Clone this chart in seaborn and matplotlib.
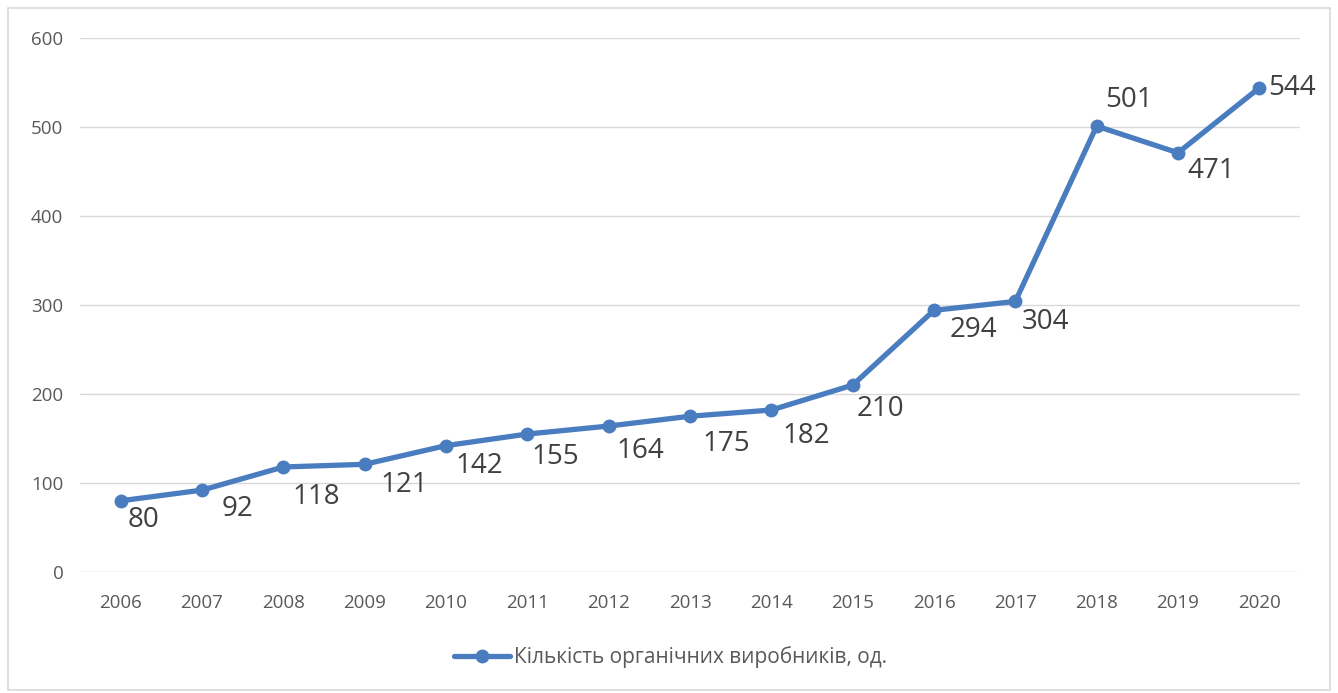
import matplotlib
matplotlib.use("Agg")
import matplotlib.pyplot as plt
import seaborn as sns
import pandas as pd
from matplotlib.patches import Rectangle

years = [2006, 2007, 2008, 2009, 2010, 2011, 2012, 2013, 2014, 2015, 2016, 2017, 2018, 2019, 2020]
producers = [80, 92, 118, 121, 142, 155, 164, 175, 182, 210, 294, 304, 501, 471, 544]
series_name = "Кількість органічних виробників, од."

# label offsets from each point, in pixels (dx right, dy down)
label_offsets = [(23, 19), (35, 19), (33, 30), (40, 21), (33, 20), (28, 23), (32, 25),
                 (36, 28), (35, 26), (28, 24), (39, 20), (30, 21), (32, -26), (33, 18), (33, 0)]

sns.set_theme(style="white")
plt.rcParams["font.family"] = ["Open Sans", "DejaVu Sans"]

df = pd.DataFrame({"year": years, "value": producers})

fig = plt.figure(figsize=(13.38, 6.93), dpi=100)
ax = fig.add_axes([0.0598, 0.1746, 0.9118, 0.7706])

blue = "#4a7dc0"
sns.lineplot(data=df, x="year", y="value", ax=ax, color=blue, linewidth=3.8,
             marker="o", markersize=10, markeredgewidth=0, label=series_name)

for x, y, (dx, dy) in zip(years, producers, label_offsets):
    ax.annotate(str(y), (x, y), xytext=(dx, -dy), textcoords="offset pixels",
                ha="center", va="center", fontsize=20, color="#404040")

ax.set_xlim(2005.5, 2020.5)
ax.set_ylim(0, 600)
ax.set_xticks(years)
ax.set_xticklabels([str(y) for y in years])
ax.set_yticks(range(0, 601, 100))
ax.grid(axis="y", color="#d9d9d9", linewidth=1)
ax.set_axisbelow(True)
for s in ax.spines.values():
    s.set_visible(False)
ax.tick_params(axis="both", length=0, labelsize=13.5, labelcolor="#595959")
ax.tick_params(axis="x", pad=16)
ax.tick_params(axis="y", pad=12)
ax.set_xlabel("")
ax.set_ylabel("")

leg = ax.legend(loc="center", bbox_to_anchor=(0.484, -0.159), frameon=False,
                fontsize=15, handlelength=2.7, handletextpad=0.2)
for t in leg.get_texts():
    t.set_color("#595959")

fig.patches.append(Rectangle((8 / 1338, 3 / 693), 1322 / 1338, 682 / 693,
                             transform=fig.transFigure, fill=False,
                             edgecolor="#d9d9d9", linewidth=1.2))

fig.savefig("out.png", dpi=100)
